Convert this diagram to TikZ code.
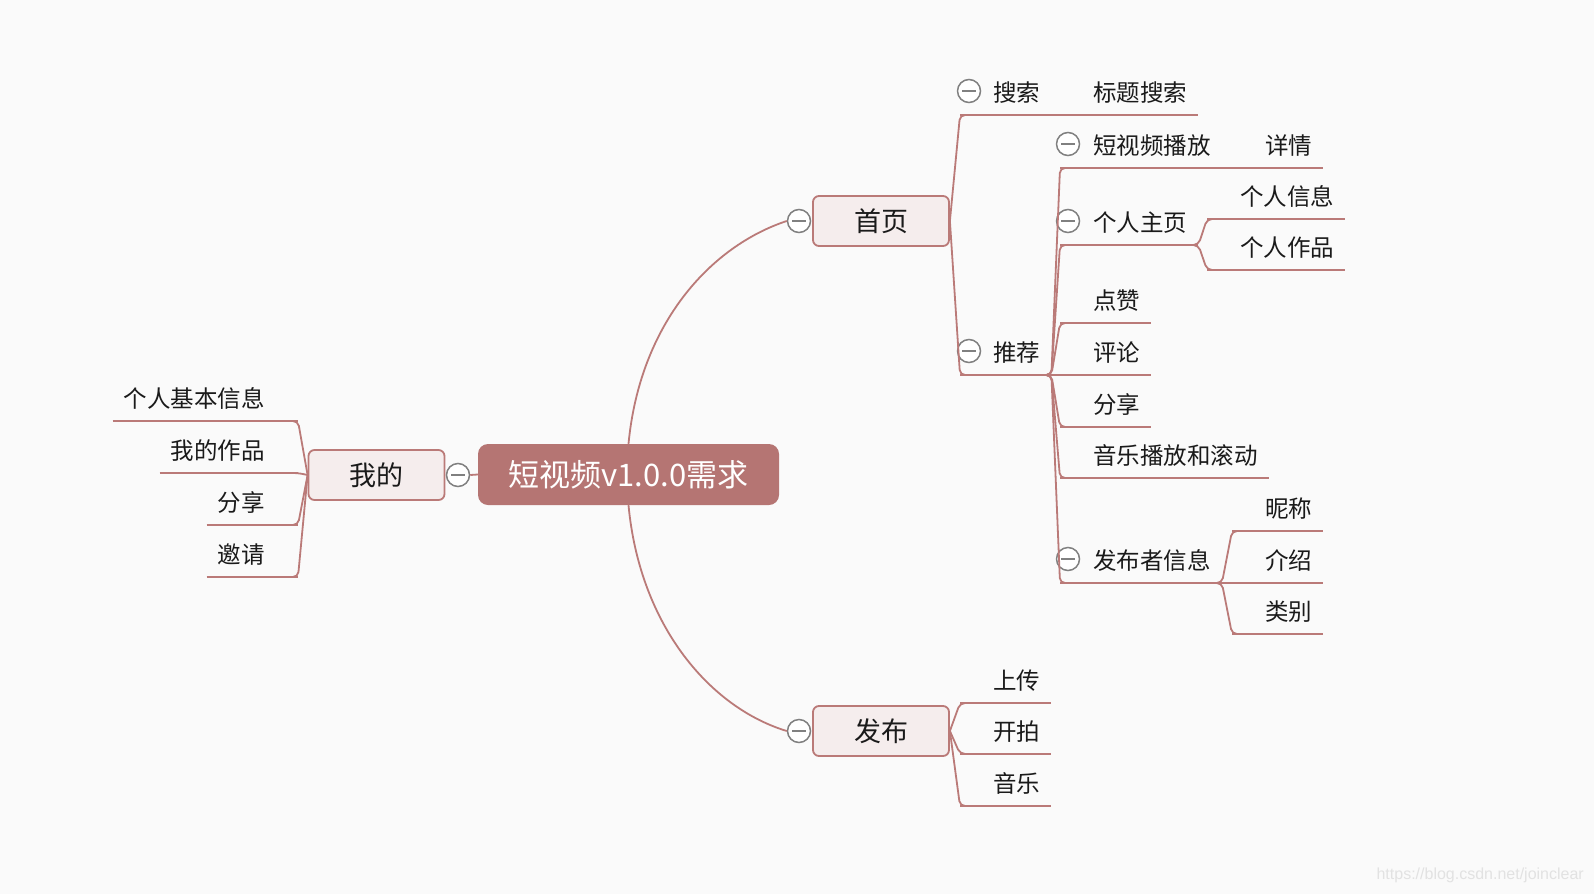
\documentclass[tikz,border=0pt]{standalone}
\usepackage{fontspec}
\setmainfont{Noto Sans CJK SC}
\newfontfamily\wmfont{Liberation Sans}
\usepackage{tikz}
\usetikzlibrary{calc}
\definecolor{rosy}{RGB}{181,117,115}
\definecolor{rosyline}{RGB}{186,122,120}
\definecolor{pale}{RGB}{245,237,237}
\definecolor{bgcol}{RGB}{250,250,250}
\definecolor{foldgray}{RGB}{128,128,128}
\definecolor{ink}{RGB}{26,26,26}
\definecolor{wmgray}{RGB}{226,226,226}
\tikzset{
  branch/.style={draw=rosyline, line width=1.8pt, rounded corners=5pt},
  rootbox/.style={rectangle, rounded corners=10pt, fill=rosy, text=white, font=\fontsize{31}{31}\selectfont, minimum width=301pt, minimum height=61pt, inner sep=0pt},
  mainbox/.style={rectangle, rounded corners=6pt, draw=rosyline, line width=1.8pt, fill=pale, text=ink, font=\fontsize{27}{27}\selectfont, minimum width=136pt, minimum height=50pt, inner sep=0pt},
  fold/.style={circle, draw=foldgray, fill=white, line width=1.5pt, minimum size=23pt, inner sep=0pt,
    path picture={\draw[foldgray, line width=1.5pt] ([xshift=-7pt]path picture bounding box.center) -- ([xshift=7pt]path picture bounding box.center);}},
  leaf/.style={text=ink, font=\fontsize{23.5}{23.5}\selectfont, inner ysep=0pt, inner xsep=11pt, text height=22pt, text depth=13pt},
  rleaf/.style={leaf, anchor=south west, execute at begin node={\hspace*{22pt}}},
  lleaf/.style={leaf, anchor=south east, execute at end node={\hspace*{22pt}}},
}
\newcommand{\rtopic}[4]{\node[rleaf] (#1) at (#2,#3) {#4}; \draw[branch] (#1.south west) -- (#1.south east);}
\newcommand{\ltopic}[4]{\node[lleaf] (#1) at (#2,#3) {#4}; \draw[branch] (#1.south west) -- (#1.south east);}
\newcommand{\fork}[2]{\draw[branch] ([xshift=-8pt]#1.south east) -- (#1.south east) -- (#2.south west) -- ([xshift=8pt]#2.south west);}

\begin{document}
\begin{tikzpicture}[x=1pt,y=-1pt]
        \fill[bgcol] (0,0) rectangle (1594,894);
        % root and main topics
        \node[rootbox] (root) at (628.5,474.5) {短视频v1.0.0需求};
        \node[mainbox] (shouye) at (881,221) {首页};
        \node[mainbox] (fabu) at (881,731) {发布};
        \node[mainbox] (wode) at (376.5,475) {我的};
        \node[fold] (fshouye) at (799,221) {};
        \node[fold] (ffabu) at (799,731) {};
        \node[fold] (fwode) at (458,475) {};
        \draw[branch] (root.north) .. controls (640,323) and (711,246) .. (fshouye.west);
        \draw[branch] (root.south) .. controls (640,627) and (711,708) .. (ffabu.west);
        \draw[branch] (fwode.east) -- (root.west);

        % shouye
        \rtopic{sousuo}{960}{115}{搜索}
        \rtopic{biaoti}{1060}{115}{标题搜索}
        \rtopic{tuijian}{960}{375}{推荐}
        \node[fold] (fsousuo) at (969,91) {};
        \node[fold] (ftuijian) at (969,351) {};
        \draw[branch] (shouye.east) -- (sousuo.south west) -- ([xshift=8pt]sousuo.south west);
        \draw[branch] (shouye.east) -- (tuijian.south west) -- ([xshift=8pt]tuijian.south west);
        \draw[branch] (sousuo.south east) -- (biaoti.south west);

        % tuijian
        \rtopic{bofang}{1060}{168}{短视频播放}
        \rtopic{xiangqing}{1232}{168}{详情}
        \rtopic{zhuye}{1060}{245}{个人主页}
        \rtopic{xinxi}{1207}{219}{个人信息}
        \rtopic{zuopin}{1207}{270}{个人作品}
        \rtopic{dianzan}{1060}{323}{点赞}
        \rtopic{pinglun}{1060}{375}{评论}
        \rtopic{fenxiang}{1060}{427}{分享}
        \rtopic{yinyue}{1060}{478}{音乐播放和滚动}
        \rtopic{fabuzhe}{1060}{583}{发布者信息}
        \rtopic{nicheng}{1232}{531}{昵称}
        \rtopic{jieshao}{1232}{583}{介绍}
        \rtopic{leibie}{1232}{634}{类别}
        \node[fold] (fbofang) at (1068,144) {};
        \node[fold] (fzhuye) at (1068,221) {};
        \node[fold] (ffabuzhe) at (1068,559) {};
        \fork{tuijian}{bofang}
        \fork{tuijian}{zhuye}
        \fork{tuijian}{dianzan}
        \fork{tuijian}{pinglun}
        \fork{tuijian}{fenxiang}
        \fork{tuijian}{yinyue}
        \fork{tuijian}{fabuzhe}
        \draw[branch] (bofang.south east) -- (xiangqing.south west);
        \fork{zhuye}{xinxi}
        \fork{zhuye}{zuopin}
        \fork{fabuzhe}{nicheng}
        \fork{fabuzhe}{jieshao}
        \fork{fabuzhe}{leibie}

        % fabu
        \rtopic{shangchuan}{960}{703}{上传}
        \rtopic{kaipai}{960}{754}{开拍}
        \rtopic{yinyue2}{960}{806}{音乐}
        \foreach \n in {shangchuan,kaipai,yinyue2}
            \draw[branch] (fabu.east) -- (\n.south west) -- ([xshift=8pt]\n.south west);

        % wode
        \ltopic{jiben}{298}{421}{个人基本信息}
        \ltopic{wozuopin}{298}{473}{我的作品}
        \ltopic{wofenxiang}{298}{525}{分享}
        \ltopic{yaoqing}{298}{577}{邀请}
        \foreach \n in {jiben,wozuopin,wofenxiang,yaoqing}
            \draw[branch] (wode.west) -- (\n.south east) -- ([xshift=-8pt]\n.south east);

        \node[anchor=east, text=wmgray, font=\wmfont\fontsize{16}{16}\selectfont, inner sep=0pt] (mark) at (1584,875) {https://blog.csdn.net/joinclear};
\end{tikzpicture}
\end{document}
